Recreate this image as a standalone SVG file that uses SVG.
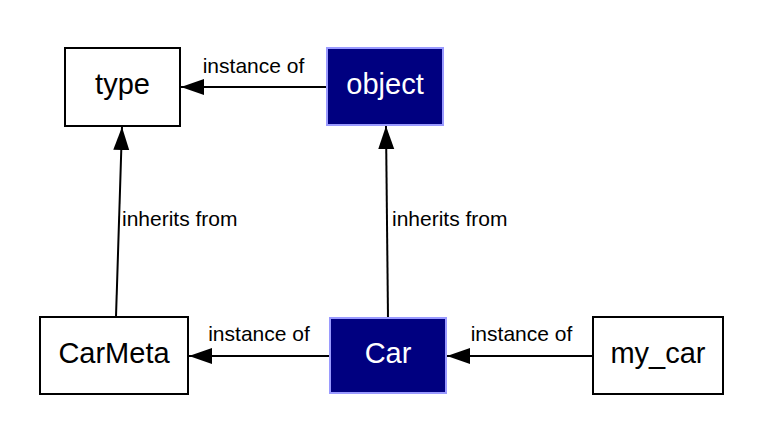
<svg xmlns="http://www.w3.org/2000/svg" width="757" height="438" viewBox="0 0 757 438">
<style>
.box{fill:#ffffff;stroke:#000000;stroke-width:2}
.hl{fill:#000080;stroke:#9a9aff;stroke-width:2}
.nt{font-family:"Liberation Sans",Arial,sans-serif;font-size:29px;text-anchor:middle;fill:#000000}
.nw{fill:#ffffff}
.lb{font-family:"Liberation Sans",Arial,sans-serif;font-size:21px;fill:#000000}
.edge{stroke:#000000;stroke-width:2;fill:none;marker-end:url(#arr)}
</style>
<defs>
<marker id="arr" markerUnits="userSpaceOnUse" markerWidth="24" markerHeight="18" refX="23" refY="8" orient="auto">
<path d="M0,0 L23,8 L0,16 z" fill="#000000"/>
</marker>
</defs>
<rect width="757" height="438" fill="#ffffff"/>
<g id="connectors">
<line class="edge" x1="327" y1="87" x2="181" y2="87"/>
<line class="edge" x1="330" y1="356" x2="189" y2="356"/>
<line class="edge" x1="593" y1="356" x2="447" y2="356"/>
<line class="edge" x1="116" y1="317" x2="122" y2="127"/>
<line class="edge" x1="388" y1="318" x2="386" y2="126"/>
<text class="lb" x="253.5" y="73" text-anchor="middle">instance of</text>
<text class="lb" x="259" y="341" text-anchor="middle">instance of</text>
<text class="lb" x="521.5" y="341" text-anchor="middle">instance of</text>
<text class="lb" x="122" y="226">inherits from</text>
<text class="lb" x="392" y="226">inherits from</text>
</g>
<g id="type">
<rect class="box" x="65" y="48" width="115" height="78"/>
<text class="nt" x="122.5" y="94">type</text>
</g>
<g id="object">
<rect class="hl" x="327" y="48" width="116" height="77"/>
<text class="nt nw" x="385" y="94">object</text>
</g>
<g id="CarMeta">
<rect class="box" x="40" y="317" width="148" height="77"/>
<text class="nt" x="114" y="363">CarMeta</text>
</g>
<g id="Car">
<rect class="hl" x="330" y="318" width="116" height="75"/>
<text class="nt nw" x="388" y="363">Car</text>
</g>
<g id="my_car">
<rect class="box" x="593" y="317" width="130" height="77"/>
<text class="nt" x="658" y="363">my_car</text>
</g>
</svg>
